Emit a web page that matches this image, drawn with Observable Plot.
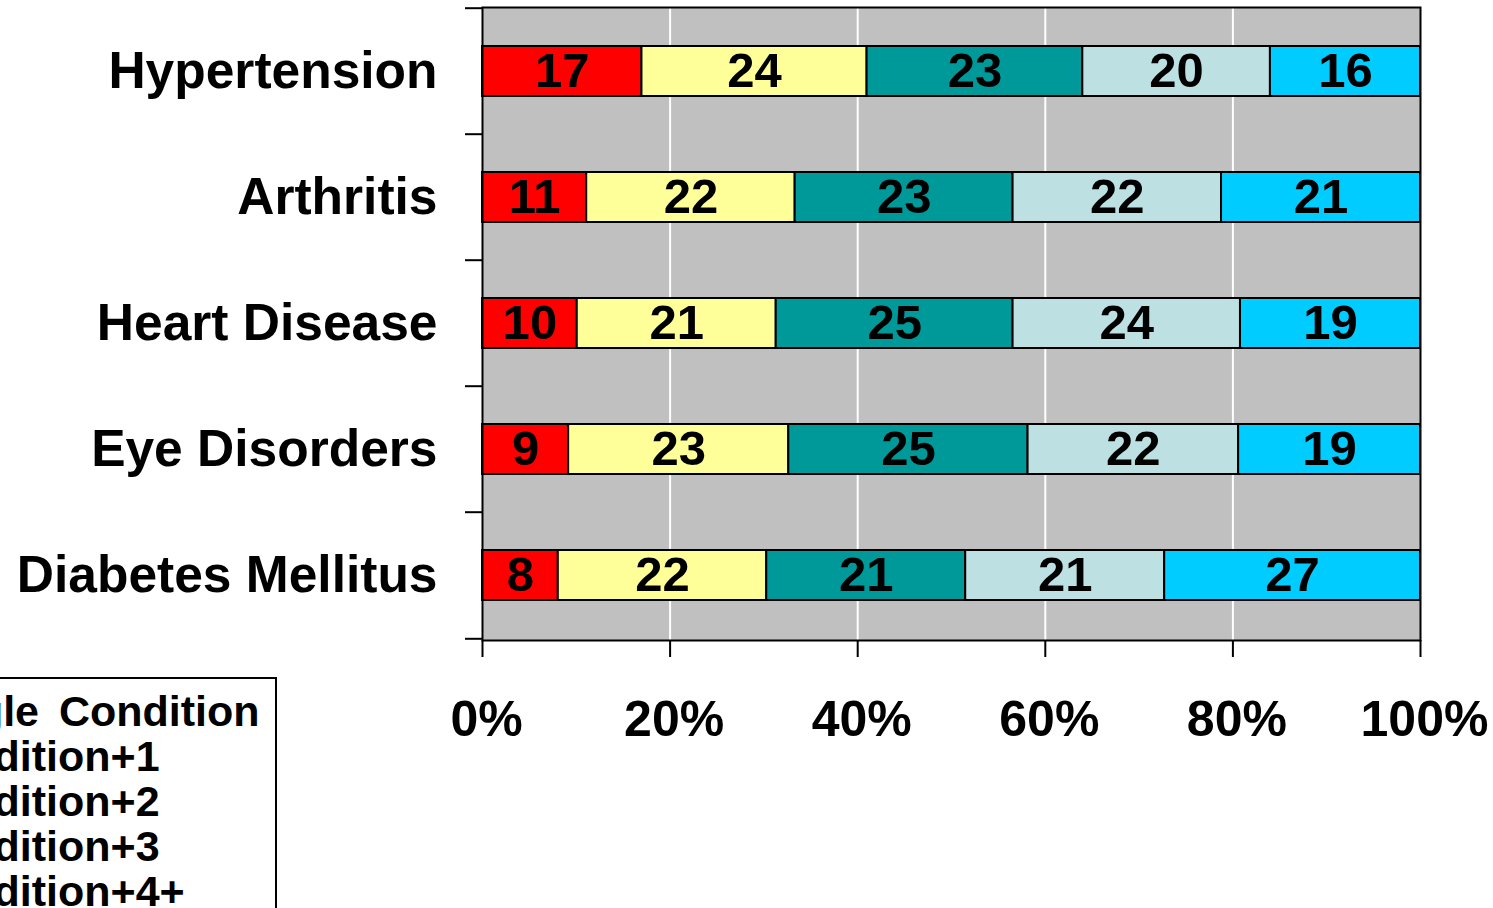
<!DOCTYPE html>
<html>
<head>
<meta charset="utf-8">
<script src="https://cdn.jsdelivr.net/npm/d3@7"></script>
<script src="https://cdn.jsdelivr.net/npm/@observablehq/plot@0.6"></script>
<style>
  html, body { margin: 0; padding: 0; background: #fff; overflow: hidden; }
  #wrap { position: relative; width: 1493px; height: 908px; font-family: "Liberation Sans", Arial, sans-serif; font-weight: bold; }
  #legend { position: absolute; left: -150px; top: 677px; width: 413px; border: 2px solid #000; background: #fff; padding: 10px 0 10px 10px; }
  .item { display: flex; align-items: center; height: 45px; font-size: 43px; line-height: 45px; color: #000; white-space: nowrap; word-spacing: 8px; }
  .sw { width: 26px; height: 26px; border: 1px solid #000; margin-right: 20px; flex: none; }
</style>
</head>
<body>
<div id="wrap"></div>
<script>
const categories = ["Hypertension", "Arthritis", "Heart Disease", "Eye Disorders", "Diabetes Mellitus"];
const series = ["Single Condition", "Condition+1", "Condition+2", "Condition+3", "Condition+4+"];
const singleCondition = [17, 11, 10, 9, 8];
const condition1 = [24, 22, 21, 23, 22];
const condition2 = [23, 23, 25, 25, 21];
const condition3 = [20, 22, 24, 22, 21];
const condition4plus = [16, 21, 19, 19, 27];
const xTicks = [0, 0.2, 0.4, 0.6, 0.8, 1];
const colors = ["#ff0000", "#ffff99", "#009999", "#bde0e3", "#00ccff"];

const seriesValues = [singleCondition, condition1, condition2, condition3, condition4plus];
const data = [];
categories.forEach((c, i) => {
  series.forEach((s, j) => data.push({cat: c, series: s, value: seriesValues[j][i]}));
});

const W = 1493, H = 760, mt = 7, mb = 120;
const step = (H - mt - mb) / categories.length;
const font = "'Liberation Sans', Arial, sans-serif";

const chart = Plot.plot({
  width: W,
  height: H,
  marginLeft: 482,
  marginRight: 73,
  marginTop: mt,
  marginBottom: mb,
  style: {fontFamily: font, fontWeight: "bold", background: "transparent", overflow: "visible"},
  x: {domain: [0, 1]},
  y: {domain: categories, paddingInner: 0.6, paddingOuter: 0.3},
  color: {domain: series, range: colors},
  marks: [
    Plot.frame({fill: "#c0c0c0", stroke: null}),
    Plot.ruleX([0.2, 0.4, 0.6, 0.8], {stroke: "#fff", strokeWidth: 2}),
    Plot.barX(data, Plot.stackX({x: "value", y: "cat", fill: "series", offset: "normalize", stroke: "#000", strokeWidth: 2})),
    Plot.text(data, Plot.stackX({x: "value", y: "cat", text: d => String(d.value), offset: "normalize", fontSize: 49, fontWeight: "bold", fill: "#000"})),
    Plot.frame({stroke: "#000", strokeWidth: 2, fill: null}),
    Plot.axisX({ticks: xTicks, tickFormat: d3.format(".0%"), tickSize: 0, tickPadding: 60, dx: 4, fontSize: 50, label: null, fill: "#000"}),
    Plot.axisX({ticks: xTicks, tickSize: 17, text: null, stroke: "#000", strokeWidth: 2, strokeOpacity: 1, label: null}),
    Plot.axisY({tickSize: 0, tickPadding: 45, fontSize: 51.5, label: null, fill: "#000"}),
    Plot.axisY({tickSize: 17, text: null, dy: -step / 2, stroke: "#000", strokeWidth: 2, strokeOpacity: 1, label: null}),
    Plot.axisY({ticks: [categories[categories.length - 1]], tickSize: 17, text: null, dy: step / 2, stroke: "#000", strokeWidth: 2, strokeOpacity: 1, label: null})
  ]
});

const wrap = document.getElementById("wrap");
wrap.appendChild(chart);

const legend = document.createElement("div");
legend.id = "legend";
series.forEach((s, j) => {
  const it = document.createElement("div");
  it.className = "item";
  const sw = document.createElement("span");
  sw.className = "sw";
  sw.style.background = colors[j];
  const t = document.createElement("span");
  t.textContent = s;
  it.appendChild(sw);
  it.appendChild(t);
  legend.appendChild(it);
});
wrap.appendChild(legend);
</script>
</body>
</html>
